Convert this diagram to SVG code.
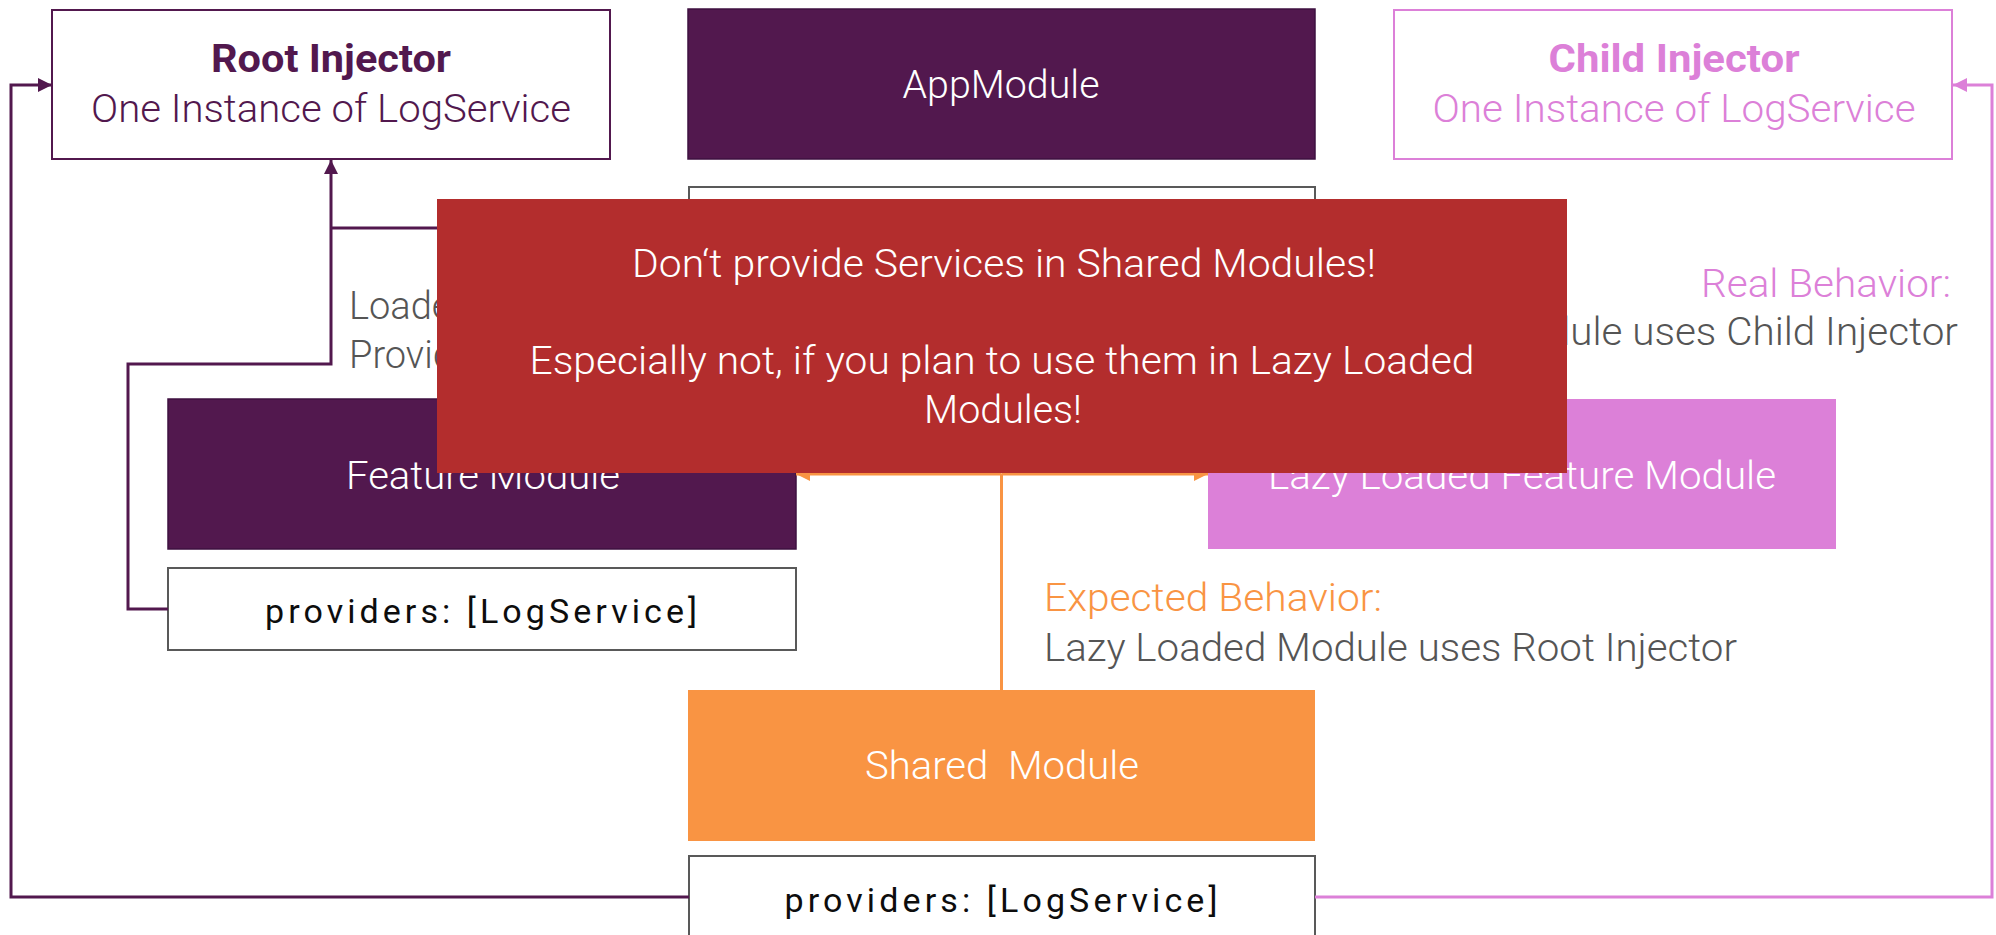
<svg xmlns="http://www.w3.org/2000/svg" width="1996" height="935" viewBox="0 0 1996 935">
<defs>
<style>
.t{font-family:Roboto,"Liberation Sans",sans-serif;font-weight:300;font-size:38px}
.b{font-family:Roboto,"Liberation Sans",sans-serif;font-weight:700;font-size:38px}
.p{font-family:Roboto,"Liberation Sans",sans-serif;font-weight:400;font-size:34px;fill:#0d0d0d}
.c{text-anchor:middle}
.purple{fill:#52184E}
.pink{fill:#DC80D8}
.orange{fill:#F99443}
.gray{fill:#555555}
.white{fill:#ffffff}
.prov{fill:#fff;stroke:#595959;stroke-width:2}
.conP{fill:none;stroke:#52184E;stroke-width:3}
.conK{fill:none;stroke:#DC80D8;stroke-width:3}
.conO{fill:none;stroke:#F99443;stroke-width:3}
</style>
<marker id="aP" markerUnits="userSpaceOnUse" markerWidth="14" markerHeight="14" viewBox="0 0 14 14" refX="14" refY="7" orient="auto"><path d="M0,0 L14,7 L0,14 z" fill="#52184E"/></marker>
<marker id="aK" markerUnits="userSpaceOnUse" markerWidth="14" markerHeight="14" viewBox="0 0 14 14" refX="14" refY="7" orient="auto"><path d="M0,0 L14,7 L0,14 z" fill="#DC80D8"/></marker>
<marker id="aO" markerUnits="userSpaceOnUse" markerWidth="14" markerHeight="14" viewBox="0 0 14 14" refX="14" refY="7" orient="auto"><path d="M0,0 L14,7 L0,14 z" fill="#F99443"/></marker>
</defs>
<rect width="1996" height="935" fill="#ffffff"/>

<g id="labels">
<text class="t gray" x="349" y="319">Loaded</text>
<text class="t gray" x="349" y="368">Provided</text>
<text class="t pink" x="1951" y="297" text-anchor="end" textLength="250" lengthAdjust="spacingAndGlyphs">Real Behavior:</text>
<text class="t gray" x="1958" y="345" text-anchor="end" textLength="701" lengthAdjust="spacingAndGlyphs">Lazy Loaded Module uses Child Injector</text>
<text class="t orange" x="1044" y="611" textLength="338" lengthAdjust="spacingAndGlyphs">Expected Behavior:</text>
<text class="t gray" x="1044" y="661" textLength="693" lengthAdjust="spacingAndGlyphs">Lazy Loaded Module uses Root Injector</text>
</g>

<g id="root-injector">
<rect x="52" y="10" width="558" height="149" fill="#fff" stroke="#52184E" stroke-width="2"/>
<text class="b purple c" x="331" y="72" textLength="240" lengthAdjust="spacingAndGlyphs">Root Injector</text>
<text class="t purple c" x="331" y="122" textLength="480" lengthAdjust="spacingAndGlyphs">One Instance of LogService</text>
</g>

<g id="app-module">
<rect x="688" y="9" width="627" height="150" fill="#52184E" stroke="#3E1140" stroke-width="1.5"/>
<text class="t white c" x="1001" y="98" textLength="197" lengthAdjust="spacingAndGlyphs">AppModule</text>
</g>
<g id="app-providers">
<rect class="prov" x="689" y="187" width="626" height="82"/>
</g>

<g id="child-injector">
<rect x="1394" y="10" width="558" height="149" fill="#fff" stroke="#DC80D8" stroke-width="2"/>
<text class="b pink c" x="1674" y="72" textLength="251" lengthAdjust="spacingAndGlyphs">Child Injector</text>
<text class="t pink c" x="1674" y="122" textLength="483" lengthAdjust="spacingAndGlyphs">One Instance of LogService</text>
</g>

<g id="feature-module">
<rect x="168" y="399" width="628" height="150" fill="#52184E" stroke="#3E1140" stroke-width="1.5"/>
<text class="t white c" x="483" y="489" textLength="274" lengthAdjust="spacingAndGlyphs">Feature Module</text>
</g>
<g id="feature-providers">
<rect class="prov" x="168" y="568" width="628" height="82"/>
<text class="p c" x="481" y="623" textLength="432" lengthAdjust="spacing">providers: [LogService]</text>
</g>

<g id="lazy-module">
<rect x="1208" y="399" width="628" height="150" fill="#DC80D8"/>
<text class="t white c" x="1522" y="489" textLength="508" lengthAdjust="spacingAndGlyphs">Lazy Loaded Feature Module</text>
</g>

<g id="shared-module">
<rect x="688" y="690" width="627" height="151" fill="#F99443"/>
<text class="t white c" x="1002" y="779" textLength="274" lengthAdjust="spacingAndGlyphs" xml:space="preserve">Shared  Module</text>
</g>
<g id="shared-providers">
<rect class="prov" x="689" y="856" width="626" height="84"/>
<text class="p c" x="1001" y="912" textLength="433" lengthAdjust="spacing">providers: [LogService]</text>
</g>

<g id="connectors">
<path class="conP" d="M689,228 H331"/>
<path class="conP" d="M168,609 H128 V364 H331 V160" marker-end="url(#aP)"/>
<path class="conP" d="M689,897 H11 V85 H52" marker-end="url(#aP)"/>
<path class="conK" d="M1315,897 H1992 V85 H1953" marker-end="url(#aK)"/>
<path class="conO" d="M1001.5,690 V474"/>
<path class="conO" d="M1001.5,474 H796" marker-end="url(#aO)"/>
<path class="conO" d="M1001.5,474 H1208" marker-end="url(#aO)"/>
</g>

<g id="warning">
<rect x="437" y="199" width="1130" height="274" fill="#B32D2D"/>
<text class="t white c" x="1004" y="277" textLength="744" lengthAdjust="spacingAndGlyphs">Don‘t provide Services in Shared Modules!</text>
<text class="t white c" x="1002" y="374" textLength="945" lengthAdjust="spacingAndGlyphs">Especially not, if you plan to use them in Lazy Loaded</text>
<text class="t white c" x="1003" y="423" textLength="158" lengthAdjust="spacingAndGlyphs">Modules!</text>
</g>
</svg>
